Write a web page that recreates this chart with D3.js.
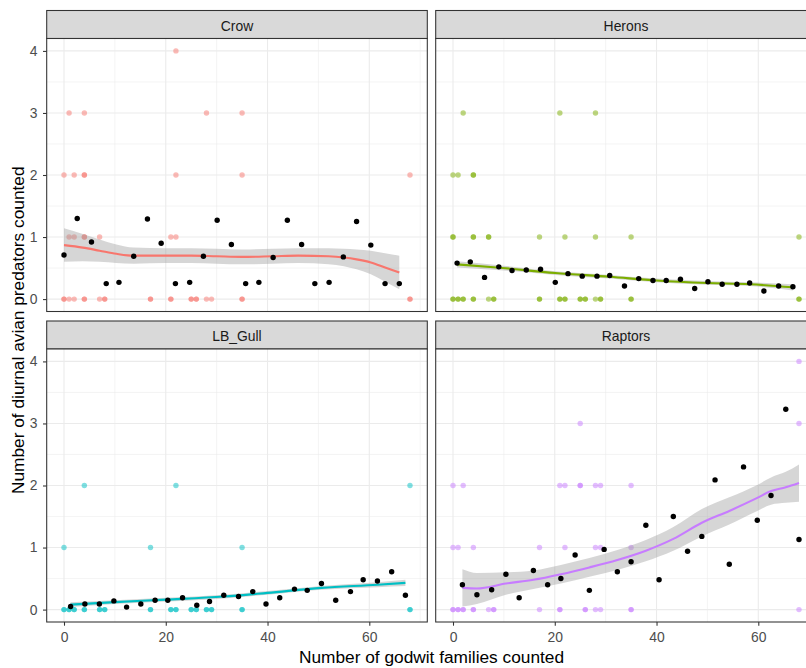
<!DOCTYPE html>
<html>
<head>
<meta charset="utf-8">
<script src="https://cdn.jsdelivr.net/npm/d3@7"></script>
<style>
  html, body { margin: 0; padding: 0; background: #ffffff; }
  svg { display: block; font-family: "Liberation Sans", Arial, sans-serif; }
</style>
</head>
<body>
<svg id="chart" width="806" height="668"></svg>
<script>
// ---- data -------------------------------------------------------------
const species = ["Crow", "Herons", "LB_Gull", "Raptors"];
const speciesColours = ["#F8766D", "#7CAE00", "#00BFC4", "#C77CFF"];
const xTicks = [0, 20, 40, 60];
const yTicks = [0, 1, 2, 3, 4];
const xTitle = "Number of godwit families counted";
const yTitle = "Number of diurnal avian predators counted";

// survey counts: [godwit families, predators counted]
const crowCounts = [
  [22, 4],
  [1, 3], [4, 3], [28, 3], [35, 3],
  [0, 2], [2, 2], [4, 2], [4, 2], [22, 2], [35, 2], [68, 2],
  [1, 1], [2, 1], [4, 1], [4, 1], [7, 1], [21, 1], [22, 1],
  [0, 0], [0, 0], [1, 0], [2, 0], [4, 0], [4, 0], [7, 0], [8, 0], [8, 0], [17, 0], [17, 0],
  [21, 0], [21, 0], [25, 0], [25, 0], [26, 0], [26, 0], [28, 0], [29, 0], [35, 0], [35, 0], [68, 0], [68, 0]
];
const heronCounts = [
  [2, 3], [21, 3], [28, 3],
  [0, 2], [1, 2], [4, 2], [4, 2],
  [0, 1], [0, 1], [4, 1], [4, 1], [7, 1], [7, 1], [17, 1], [22, 1], [28, 1], [35, 1], [68, 1],
  [0, 0], [0, 0], [1, 0], [1, 0], [2, 0], [2, 0], [4, 0], [4, 0], [7, 0], [8, 0], [8, 0],
  [17, 0], [17, 0], [21, 0], [21, 0], [22, 0], [22, 0], [25, 0], [25, 0], [26, 0], [26, 0],
  [28, 0], [29, 0], [29, 0], [35, 0], [35, 0], [68, 0], [68, 0]
];
const gullCounts = [
  [4, 2], [22, 2], [68, 2],
  [0, 1], [17, 1], [35, 1],
  [0, 0], [0, 0], [1, 0], [1, 0], [2, 0], [2, 0], [4, 0], [4, 0], [7, 0], [7, 0], [8, 0], [8, 0],
  [17, 0], [17, 0], [21, 0], [21, 0], [22, 0], [22, 0], [25, 0], [25, 0], [26, 0], [26, 0],
  [28, 0], [28, 0], [29, 0], [29, 0], [35, 0], [35, 0], [68, 0], [68, 0]
];
const raptorCounts = [
  [68, 4],
  [25, 3], [68, 3],
  [0, 2], [2, 2], [21, 2], [22, 2], [25, 2], [25, 2], [28, 2], [29, 2], [35, 2],
  [0, 1], [1, 1], [4, 1], [17, 1], [22, 1], [28, 1], [29, 1], [35, 1],
  [0, 0], [0, 0], [1, 0], [1, 0], [2, 0], [2, 0], [4, 0], [4, 0], [7, 0], [8, 0], [8, 0],
  [17, 0], [21, 0], [21, 0], [26, 0], [26, 0], [28, 0], [29, 0], [35, 0], [35, 0], [68, 0]
];

// mean predators per family-count bin: [godwit families, mean]
const crowMeans = [
  [0, 0.71], [2.6, 1.30], [5.4, 0.92], [8.3, 0.25], [10.8, 0.27], [13.7, 0.69], [16.4, 1.29],
  [19.1, 0.90], [21.9, 0.25], [24.7, 0.27], [27.4, 0.69], [30.1, 1.27], [32.9, 0.88], [35.7, 0.25],
  [38.3, 0.27], [41.1, 0.67], [43.9, 1.27], [46.7, 0.88], [49.3, 0.25], [52.1, 0.27], [54.9, 0.68],
  [57.5, 1.25], [60.3, 0.87], [63.1, 0.25], [65.9, 0.25]
];
const heronMeans = [
  [0.8, 0.58], [3.4, 0.60], [6.2, 0.35], [9.0, 0.52], [11.6, 0.46], [14.4, 0.47], [17.2, 0.48],
  [20.1, 0.27], [22.6, 0.41], [25.4, 0.37], [28.3, 0.37], [30.8, 0.38], [33.7, 0.21], [36.5, 0.33],
  [39.3, 0.30], [41.9, 0.30], [44.7, 0.32], [47.5, 0.17], [50.1, 0.28], [52.9, 0.24], [55.8, 0.24],
  [58.3, 0.26], [61.1, 0.13], [64.0, 0.21], [66.8, 0.20]
];
const gullMeans = [
  [1.3, 0.05], [4.1, 0.09], [6.95, 0.09], [9.8, 0.14], [12.3, 0.04], [15.1, 0.09], [17.9, 0.15],
  [20.4, 0.15], [23.3, 0.19], [26.1, 0.07], [28.6, 0.13], [31.4, 0.23], [34.3, 0.21], [37.1, 0.29],
  [39.7, 0.09], [42.4, 0.19], [45.3, 0.33], [47.8, 0.31], [50.6, 0.42], [53.4, 0.15], [56.3, 0.29],
  [58.8, 0.48], [61.6, 0.46], [64.4, 0.61], [67.1, 0.23]
];
const raptorMeans = [
  [1.85, 0.40], [4.7, 0.24], [7.6, 0.32], [10.4, 0.57], [13.0, 0.19], [15.8, 0.63], [18.6, 0.40],
  [21.2, 0.50], [24.0, 0.88], [26.8, 0.31], [29.7, 0.97], [32.3, 0.61], [35.0, 0.77], [37.9, 1.36],
  [40.5, 0.48], [43.3, 1.50], [46.1, 0.94], [48.9, 1.18], [51.5, 2.09], [54.3, 0.73], [57.1, 2.30],
  [59.8, 1.44], [62.5, 1.84], [65.4, 3.23], [68.0, 1.13]
];

// smoothed trend: x, fitted value, half-width of the confidence band
const crowSmoothX    = [0, 3.7, 7, 10.3, 13.7, 20, 25, 30, 35, 41, 46, 52, 55, 57.5, 60.3, 63.1, 65.9];
const crowSmoothFit  = [0.87, 0.83, 0.78, 0.73, 0.70, 0.70, 0.70, 0.69, 0.68, 0.69, 0.70, 0.69, 0.67, 0.64, 0.59, 0.51, 0.43];
const crowSmoothBand = [0.27, 0.22, 0.18, 0.15, 0.13, 0.12, 0.12, 0.12, 0.12, 0.12, 0.12, 0.13, 0.14, 0.16, 0.19, 0.23, 0.27];

const heronSmoothX    = [0.8, 8.6, 20.1, 30.8, 40, 50, 58.3, 66.8];
const heronSmoothFit  = [0.56, 0.51, 0.42, 0.36, 0.30, 0.26, 0.24, 0.19];
const heronSmoothBand = [0.05, 0.04, 0.03, 0.03, 0.03, 0.03, 0.03, 0.05];

const gullSmoothX    = [1.3, 10, 20, 31.4, 40, 50.6, 61.6, 67.1];
const gullSmoothFit  = [0.08, 0.12, 0.16, 0.21, 0.27, 0.35, 0.40, 0.43];
const gullSmoothBand = [0.04, 0.03, 0.03, 0.03, 0.03, 0.03, 0.04, 0.05];

const raptorSmoothX    = [1.85, 4.7, 10.4, 15.8, 21.2, 26.8, 32.3, 37.9, 43.3, 48.9, 54.3, 59.8, 62.5, 65.4, 68];
const raptorSmoothFit  = [0.35, 0.34, 0.42, 0.48, 0.57, 0.68, 0.80, 0.95, 1.14, 1.40, 1.59, 1.80, 1.91, 1.97, 2.04];
const raptorSmoothBand = [0.30, 0.25, 0.18, 0.15, 0.15, 0.15, 0.16, 0.17, 0.19, 0.22, 0.22, 0.21, 0.22, 0.25, 0.30];

// ---- panel table ------------------------------------------------------
function smoothRows(xs, fit, band) {
  return xs.map((x, i) => ({ x: x, fit: fit[i], lo: fit[i] - band[i], hi: fit[i] + band[i] }));
}
const panels = [
  { counts: crowCounts,   means: crowMeans,   smooth: smoothRows(crowSmoothX, crowSmoothFit, crowSmoothBand) },
  { counts: heronCounts,  means: heronMeans,  smooth: smoothRows(heronSmoothX, heronSmoothFit, heronSmoothBand) },
  { counts: gullCounts,   means: gullMeans,   smooth: smoothRows(gullSmoothX, gullSmoothFit, gullSmoothBand) },
  { counts: raptorCounts, means: raptorMeans, smooth: smoothRows(raptorSmoothX, raptorSmoothFit, raptorSmoothBand) }
].map((p, i) => Object.assign(p, { name: species[i], colour: speciesColours[i] }));

// ---- layout -----------------------------------------------------------
const panelW = 380.6, plotH = 273, stripH = 28, gapX = 8.4;
const colLeft = [46.7, 46.7 + panelW + gapX];
const rowStripTop = [10.5, 321];
const smallFont = 13.9, titleFont = 17.3;
const border = "#333333", gridCol = "#EBEBEB";

const x = d3.scaleLinear().domain([-3.4, 71.4]).range([0, panelW]);
const y = d3.scaleLinear().domain([-0.2, 4.2]).range([plotH, 0]);
const xMinor = [10, 30, 50, 70];
const yMinor = [0.5, 1.5, 2.5, 3.5];

const svg = d3.select("#chart");
svg.append("rect").attr("width", 806).attr("height", 668).attr("fill", "#ffffff");
const defs = svg.append("defs");
defs.append("clipPath").attr("id", "plotClip")
  .append("rect").attr("x", 0).attr("y", 0).attr("width", panelW).attr("height", plotH);

const area = d3.area().x(d => x(d.x)).y0(d => y(d.lo)).y1(d => y(d.hi)).curve(d3.curveMonotoneX);
const line = d3.line().x(d => x(d.x)).y(d => y(d.fit)).curve(d3.curveMonotoneX);

panels.forEach((p, i) => {
  const col = i % 2, row = Math.floor(i / 2);
  const g = svg.append("g")
    .attr("transform", `translate(${colLeft[col]},${rowStripTop[row] + stripH})`);

  // facet strip
  g.append("rect")
    .attr("x", 0).attr("y", -stripH).attr("width", panelW).attr("height", stripH)
    .attr("fill", "#D9D9D9").attr("stroke", border).attr("stroke-width", 1.07);
  g.append("text")
    .attr("x", panelW / 2).attr("y", -stripH / 2 + 6.3)
    .attr("text-anchor", "middle")
    .attr("font-size", smallFont).attr("fill", "#1A1A1A")
    .text(p.name);

  const plot = g.append("g").attr("clip-path", "url(#plotClip)");
  plot.append("rect").attr("width", panelW).attr("height", plotH).attr("fill", "#ffffff");

  // grid
  plot.selectAll(".gxm").data(xMinor).join("line")
    .attr("x1", d => x(d)).attr("x2", d => x(d)).attr("y1", 0).attr("y2", plotH)
    .attr("stroke", gridCol).attr("stroke-width", 0.53);
  plot.selectAll(".gym").data(yMinor).join("line")
    .attr("x1", 0).attr("x2", panelW).attr("y1", d => y(d)).attr("y2", d => y(d))
    .attr("stroke", gridCol).attr("stroke-width", 0.53);
  plot.selectAll(".gx").data(xTicks).join("line")
    .attr("x1", d => x(d)).attr("x2", d => x(d)).attr("y1", 0).attr("y2", plotH)
    .attr("stroke", gridCol).attr("stroke-width", 1.07);
  plot.selectAll(".gy").data(yTicks).join("line")
    .attr("x1", 0).attr("x2", panelW).attr("y1", d => y(d)).attr("y2", d => y(d))
    .attr("stroke", gridCol).attr("stroke-width", 1.07);

  // raw survey counts
  plot.append("g").selectAll("circle").data(p.counts).join("circle")
    .attr("cx", d => x(d[0])).attr("cy", d => y(d[1])).attr("r", 2.7)
    .attr("fill", p.colour).attr("fill-opacity", 0.5);

  // trend with confidence band
  plot.append("path").datum(p.smooth).attr("d", area)
    .attr("fill", "#999999").attr("fill-opacity", 0.4);
  plot.append("path").datum(p.smooth).attr("d", line)
    .attr("fill", "none").attr("stroke", p.colour).attr("stroke-width", 2.1);

  // means
  plot.append("g").selectAll("circle").data(p.means).join("circle")
    .attr("cx", d => x(d[0])).attr("cy", d => y(d[1])).attr("r", 2.7)
    .attr("fill", "#000000");

  // panel border
  g.append("rect").attr("width", panelW).attr("height", plotH)
    .attr("fill", "none").attr("stroke", border).attr("stroke-width", 1.07);

  // axes on the outer panels only
  if (col === 0) {
    const ay = g.append("g").call(
      d3.axisLeft(y).tickValues(yTicks).tickFormat(d3.format("d")).tickSize(3.7).tickPadding(5.6));
    ay.select(".domain").remove();
    ay.selectAll("line").attr("stroke", border).attr("stroke-width", 1.07);
    ay.selectAll("text").attr("fill", "#4D4D4D").attr("font-size", smallFont)
      .attr("font-family", "Liberation Sans, Arial, sans-serif");
  }
  if (row === 1) {
    const ax = g.append("g").attr("transform", `translate(0,${plotH})`)
      .call(d3.axisBottom(x).tickValues(xTicks).tickFormat(d3.format("d")).tickSize(3.7).tickPadding(6));
    ax.select(".domain").remove();
    ax.selectAll("line").attr("stroke", border).attr("stroke-width", 1.07);
    ax.selectAll("text").attr("fill", "#4D4D4D").attr("font-size", smallFont)
      .attr("font-family", "Liberation Sans, Arial, sans-serif");
  }
});

// axis titles
const panelsLeft = colLeft[0], panelsRight = colLeft[1] + panelW;
svg.append("text")
  .attr("x", (panelsLeft + panelsRight) / 2).attr("y", 657)
  .attr("text-anchor", "middle").attr("dominant-baseline", "central")
  .attr("font-size", titleFont).attr("fill", "#000000")
  .text(xTitle);
const plotTop = rowStripTop[0] + stripH, plotBottom = rowStripTop[1] + stripH + plotH;
svg.append("text")
  .attr("transform", `translate(17.5,${(plotTop + plotBottom) / 2}) rotate(-90)`)
  .attr("text-anchor", "middle").attr("dominant-baseline", "central")
  .attr("font-size", titleFont).attr("fill", "#000000")
  .text(yTitle);
</script>
</body>
</html>
